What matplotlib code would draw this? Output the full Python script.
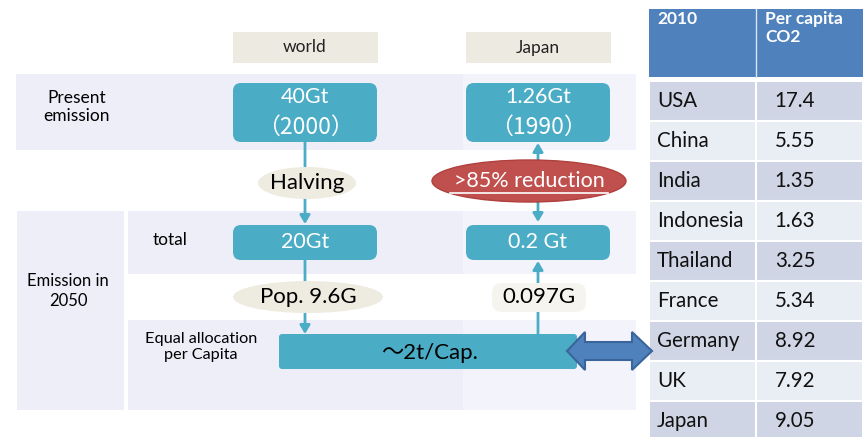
import matplotlib
matplotlib.use("Agg")
import matplotlib.pyplot as plt
from matplotlib.patches import Rectangle, FancyBboxPatch, Ellipse, Polygon

plt.rcParams['font.family'] = ['Lato', 'Noto Sans CJK JP', 'DejaVu Sans']
CJK = ['Noto Sans CJK JP', 'Lato']

# ---- data ----
columns = ["world", "Japan"]
present = ["40Gt\n（2000）", "1.26Gt\n（1990）"]
reduction = ["Halving", ">85% reduction"]
total_2050 = ["20Gt", "0.2 Gt"]
population = ["Pop. 9.6G", "0.097G"]
allocation = "～2t/Cap."
row_labels = ["Present\nemission", "Emission in\n2050", "total", "Equal allocation\nper Capita"]

table_header = ["2010", "Per capita\nCO2"]
countries = ["USA", "China", "India", "Indonesia", "Thailand",
             "France", "Germany", "UK", "Japan"]
per_capita = [17.4, 5.55, 1.35, 1.63, 3.25, 5.34, 8.92, 7.92, 9.05]
per_capita_txt = ["17.4", "5.55", "1.35", "1.63", "3.25", "5.34", "8.92", "7.92", "9.05"]

# ---- colours ----
TEAL = "#4BACC6"
BAND = "#EEEEF9"
BEIGE = "#EEECE1"
RED = "#C0504D"
BLUE = "#4F81BD"

fig = plt.figure(figsize=(8.68, 4.37), dpi=100)
ax = fig.add_axes([0, 0, 1, 1])
ax.set_xlim(0, 868)
ax.set_ylim(437, 0)
ax.axis("off")

# background bands
ax.add_patch(Rectangle((16, 74), 620, 76, fc=BAND, ec="none", zorder=0))
ax.add_patch(Rectangle((17, 211), 107, 199, fc=BAND, ec="none", zorder=0))
ax.add_patch(Rectangle((128, 211), 508, 63, fc=BAND, ec="none", zorder=0))
ax.add_patch(Rectangle((128, 320), 508, 90, fc=BAND, ec="none", zorder=0))
# lighter pasted panel for the Japan column
ax.add_patch(Rectangle((463, 66), 173, 352, fc="white", ec="none", alpha=0.35, zorder=0.5))

# column headers
col_x = [305, 538]
for cx, name in zip(col_x, columns):
    ax.add_patch(Rectangle((cx - 72, 32), 145, 31, fc="#EDEBE1", ec="none", zorder=1))
    ax.text(cx, 47.5, name, ha="center", va="center", fontsize=12.5, color="#222222", zorder=2)

# row labels
ax.text(77, 107, row_labels[0], ha="center", va="center", fontsize=12.5, linespacing=1.2)
ax.text(68, 291, row_labels[1], ha="center", va="center", fontsize=12, linespacing=1.25)
ax.text(170, 240, row_labels[2], ha="center", va="center", fontsize=12.5)
ax.text(201, 347, row_labels[3], ha="center", va="center", fontsize=11.7, linespacing=1.25)

def rbox(cx, y0, y1, text, fs=15.5):
    ax.add_patch(FancyBboxPatch((cx - 72, y0), 144, y1 - y0,
                                boxstyle="round,pad=0,rounding_size=8",
                                fc=TEAL, ec="none", zorder=3))
    lines = text.split("\n")
    if len(lines) == 1:
        ax.text(cx, (y0 + y1) / 2, text, ha="center", va="center", fontsize=fs,
                color="white", zorder=4)
    else:
        ax.text(cx, y0 + 14, lines[0], ha="center", va="center", fontsize=fs,
                color="white", zorder=4)
        ax.text(cx, y0 + 44, lines[1], ha="center", va="center", fontsize=fs + 1,
                color="white", family=CJK, zorder=4)

# present emission boxes
rbox(col_x[0], 83, 142, present[0])
rbox(col_x[1], 83, 142, present[1])
# 2050 totals
rbox(col_x[0], 225, 260, total_2050[0])
rbox(col_x[1], 225, 260, total_2050[1])

ap = dict(arrowstyle="-|>,head_length=0.5,head_width=0.3", color=TEAL, lw=2,
          shrinkA=0, shrinkB=0)
ap2 = dict(arrowstyle="<|-|>,head_length=0.5,head_width=0.3", color=TEAL, lw=2,
           shrinkA=0, shrinkB=0)

# world flow arrows
ax.annotate("", xy=(col_x[0], 224), xytext=(col_x[0], 142), arrowprops=ap, zorder=2)
ax.annotate("", xy=(col_x[0], 334), xytext=(col_x[0], 260), arrowprops=ap, zorder=2)
# Japan flow arrows
ax.annotate("", xy=(col_x[1], 143), xytext=(col_x[1], 222), arrowprops=ap2, zorder=2)
ax.annotate("", xy=(col_x[1], 261), xytext=(col_x[1], 334), arrowprops=ap, zorder=2)

# reduction ellipses
ax.add_patch(Ellipse((307, 183), 98, 32, fc=BEIGE, ec="none", zorder=5))
ax.text(307, 183, reduction[0], ha="center", va="center", fontsize=16, zorder=6)
ax.add_patch(Ellipse((529, 181), 194, 42, fc=RED, ec="#B0403D", lw=1, zorder=5))
ax.text(529, 181, reduction[1], ha="center", va="center", fontsize=15.5,
        color="white", zorder=6)
ax.plot([450, 608], [192.5, 192.5], color="white", lw=1.2, zorder=6)

# population ellipses
ax.add_patch(Ellipse((308, 297), 150, 32, fc=BEIGE, ec="none", zorder=5))
ax.text(308, 297, population[0], ha="center", va="center", fontsize=16, zorder=6)
ax.add_patch(FancyBboxPatch((492, 283), 94, 29, boxstyle="round,pad=0,rounding_size=10",
                            fc="#F6F4EE", ec="none", zorder=5))
ax.text(539, 297, population[1], ha="center", va="center", fontsize=16, zorder=6)

# equal allocation bar
ax.add_patch(FancyBboxPatch((279, 334), 298, 35, boxstyle="round,pad=0,rounding_size=3",
                            fc=TEAL, ec="none", zorder=3))
ax.text(429, 353, allocation, ha="center", va="center", fontsize=16, zorder=4)

# double-headed link to the table
cy = 351
arrow_pts = [(567, cy), (585, cy - 19), (585, cy - 9), (632, cy - 9), (632, cy - 19),
             (652, cy), (632, cy + 19), (632, cy + 9), (585, cy + 9), (585, cy + 19)]
ax.add_patch(Polygon(arrow_pts, closed=True, fc=BLUE, ec="#3A659A", lw=1.5, zorder=9))

# per-capita table
tx0, tdiv, tx1 = 649, 756, 863
ax.add_patch(Rectangle((tx0, 9), tx1 - tx0, 68, fc=BLUE, ec="none", zorder=7))
ax.plot([tdiv, tdiv], [9, 77], color="#DCE6F2", lw=1, zorder=8)
ax.text(tx0 + 8, 11, table_header[0], ha="left", va="top", fontsize=12.5,
        color="white", fontweight="bold", zorder=8)
ax.text(tdiv + 9, 11, table_header[1], ha="left", va="top", fontsize=12.5,
        color="white", fontweight="bold", linespacing=1.15, zorder=8)

row_h = 40
y_start = 81
for i, (c, v) in enumerate(zip(countries, per_capita_txt)):
    y0 = y_start + i * row_h
    fc = "#CFD5E4" if i % 2 == 0 else "#E9EDF4"
    ax.add_patch(Rectangle((tx0, y0), tx1 - tx0, row_h, fc=fc, ec="white", lw=1.5, zorder=7))
    ax.text(tx0 + 8, y0 + row_h / 2, c, ha="left", va="center", fontsize=14.8,
            color="#111111", zorder=8)
    ax.text(795, y0 + row_h / 2, v, ha="center", va="center", fontsize=14.8,
            color="#111111", zorder=8)
ax.plot([tdiv, tdiv], [y_start, 437], color="white", lw=1.5, zorder=8)

fig.savefig("out.png", dpi=100)
